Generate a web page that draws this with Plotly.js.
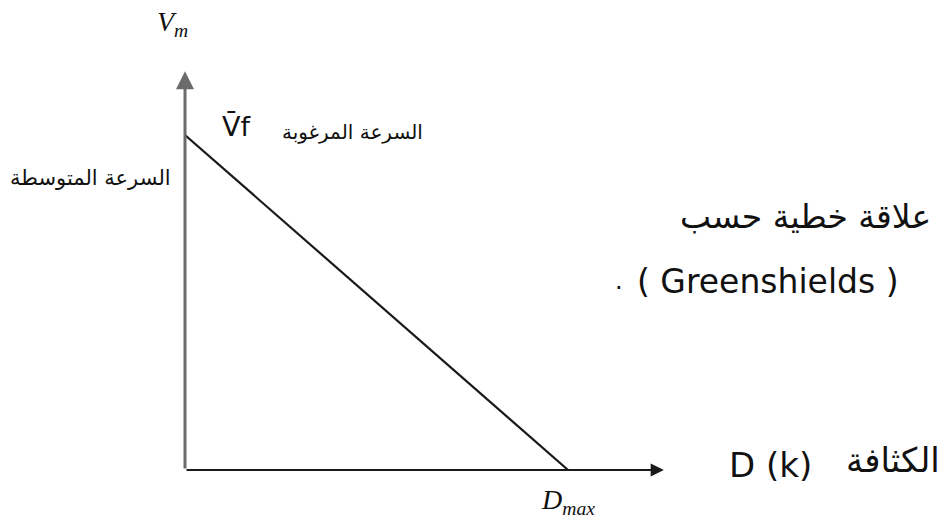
<!DOCTYPE html>
<html>
<head>
<meta charset="utf-8">
<script src="https://cdn.plot.ly/plotly-3.0.1.min.js"></script>
<style>
  html, body { margin: 0; padding: 0; background: #fff; }
  #chart { width: 942px; height: 522px; }
</style>
</head>
<body>
<div id="chart"></div>
<script>
// Greenshields speed–density relation: speed falls linearly from the
// free-flow speed Vf (at zero density) to zero at the jam density Dmax.
const density = [0, 100];     // k, from 0 to Dmax
const speed = [100, 0];       // mean speed, from Vf down to 0
const xArrowEnd = 125;        // end of the density axis arrow
const yArrowEnd = 119;        // end of the speed axis arrow

const W = 942, H = 522;
const M = { l: 185, r: 0, t: 0, b: 52 };
const plotW = W - M.l - M.r, plotH = H - M.t - M.b;
// place a label by page pixel position (paper coords are relative to the plot area)
function label(px, py, text, font, extra) {
  return Object.assign({
    xref: 'paper', yref: 'paper',
    x: (px - M.l) / plotW, y: (H - M.b - py) / plotH,
    xanchor: 'center', yanchor: 'middle',
    text: text, showarrow: false, font: font
  }, extra || {});
}
const ink = '#111';
const arabic = size => ({ family: 'DejaVu Sans, Noto Sans', size: size, color: ink });
const serif = size => ({ family: 'Liberation Serif, DejaVu Serif', size: size, color: ink });
const sans = size => ({ family: 'DejaVu Sans, Noto Sans', size: size, color: ink });

const line = {
  x: density,
  y: speed,
  type: 'scatter',
  mode: 'lines',
  line: { color: '#1a1a1a', width: 2.2 },
  hoverinfo: 'skip',
  showlegend: false
};

const annotations = [
  // speed axis with arrow
  { x: 0, y: yArrowEnd, ax: 0, ay: 0, axref: 'x', ayref: 'y', xref: 'x', yref: 'y',
    text: '', showarrow: true, arrowhead: 2, arrowsize: 1.2, arrowwidth: 3, arrowcolor: '#6b6b6b' },
  // density axis with arrow
  { x: xArrowEnd, y: 0, ax: 0, ay: 0, axref: 'x', ayref: 'y', xref: 'x', yref: 'y',
    text: '', showarrow: true, arrowhead: 2, arrowsize: 1.2, arrowwidth: 2.2, arrowcolor: '#1a1a1a' },
  // axis names and point labels
  label(172, 24, '<i>V<sub>m</sub></i>', serif(28)),
  label(236, 126, 'V\u0304f', sans(27)),
  label(352, 132, 'السرعة المرغوبة', arabic(20)),
  label(90, 178, 'السرعة المتوسطة', arabic(21)),
  label(805, 216, 'علاقة خطية حسب', arabic(33)),
  label(619, 281, '.', sans(24)),
  label(768, 281, '( Greenshields )', sans(33)),
  label(770, 465, 'D (k)', sans(34)),
  label(893, 460, 'الكثافة', arabic(34)),
  { x: density[1], y: 0, xref: 'x', yref: 'y', xanchor: 'center', yanchor: 'top', yshift: -12,
    text: '<i>D<sub>max</sub></i>', showarrow: false, font: serif(28) }
];

const layout = {
  width: W,
  height: H,
  margin: M,
  paper_bgcolor: '#ffffff',
  plot_bgcolor: '#ffffff',
  xaxis: { range: [0, 197.6], visible: false, fixedrange: true },
  yaxis: { range: [0, 140.3], visible: false, fixedrange: true },
  annotations: annotations,
  showlegend: false
};

Plotly.newPlot('chart', [line], layout, { displayModeBar: false, staticPlot: true });
</script>
</body>
</html>
